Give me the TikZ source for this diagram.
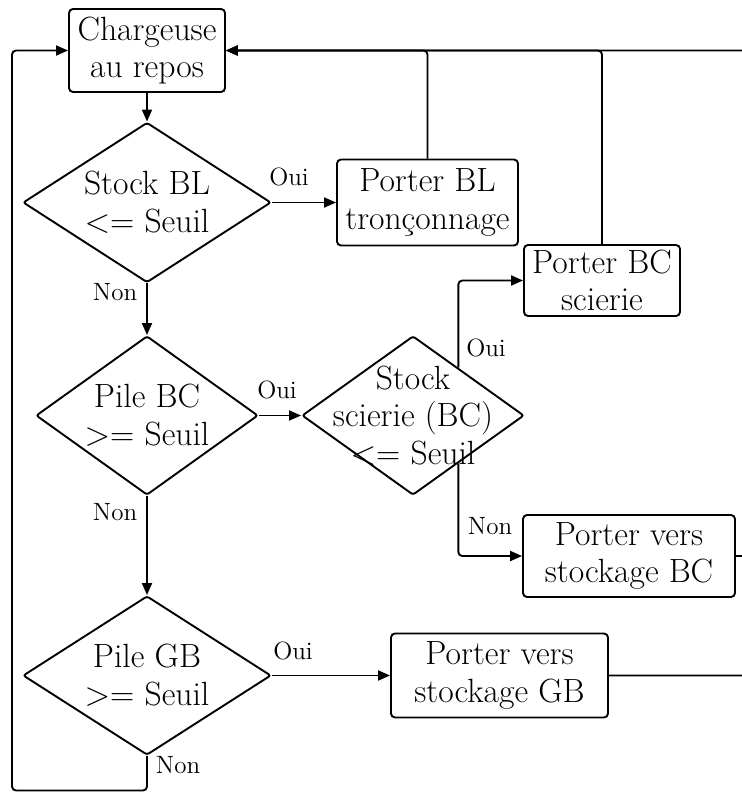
\documentclass[tikz,border=0pt]{standalone}
\usetikzlibrary{shapes.geometric,arrows.meta,calc}
\begin{document}
\begin{tikzpicture}[x=0.5pt,y=-0.5pt,
  line width=0.95pt,
  every node/.style={font=\fontsize{16.8}{18.8}\selectfont},
  stepbox/.style={draw, rounded corners=2pt, align=center, inner sep=0pt},
  test/.style={draw, diamond, inner sep=0pt, rounded corners=1.2pt},
  tag/.style={font=\fontsize{12.5}{14}\selectfont, inner sep=0pt},
  flow/.style={-{Triangle[length=6pt,width=5pt]}, rounded corners=2pt},
]
\useasboundingbox (0,0) rectangle (742,792);
\clip (0,0) rectangle (742,792);

% boxes and tests
\node[stepbox, minimum width=78pt, minimum height=41.5pt] (A) at (147,50.5) {Chargeuse\\au repos};
\node[test, minimum width=124pt, minimum height=80pt,
      label={[align=center]center:Stock BL\\<= Seuil}] (sbl) at (147,202.5) {};
\node[stepbox, minimum width=90.5pt, minimum height=43pt] (pbl) at (427.5,202.5) {Porter BL\\tronçonnage};
\node[test, minimum width=111pt, minimum height=79.5pt,
      label={[align=center]center:Pile BC\\>= Seuil}] (pbc) at (147,415.5) {};
\node[test, minimum width=111pt, minimum height=79.5pt,
      label={[align=center]center:Stock\\scierie (BC)\\<= Seuil}] (ssc) at (413,415.5) {};
\node[stepbox, minimum width=78pt, minimum height=35.5pt] (bcs) at (602,280.5) {Porter BC\\scierie};
\node[stepbox, minimum width=106pt, minimum height=41pt] (sbc) at (629,556) {Porter vers\\stockage BC};
\node[test, minimum width=124pt, minimum height=79.5pt,
      label={[align=center]center:Pile GB\\>= Seuil}] (pgb) at (147,675.5) {};
\node[stepbox, minimum width=108.5pt, minimum height=42pt] (sgb) at (499.5,675.5) {Porter vers\\stockage GB};

% branch labels
\node[tag] (l1) at (289,177) {Oui};
\node[tag] (l2) at (115,292) {Non};
\node[tag] (l3) at (277,390) {Oui};
\node[tag] (l4) at (115,512) {Non};
\node[tag] (l5) at (486,348) {Oui};
\node[tag] (l6) at (490,526) {Non};
\node[tag] (l7) at (293,651) {Oui};
\node[tag] (l8) at (178,765) {Non};

% connectors
\draw[flow] (A.south) -- (sbl.north);
\draw[flow] (sbl.east) -- (pbl.west);
\draw[flow] (sbl.south) -- (pbc.north);
\draw[flow] (pbc.east) -- (ssc.west);
\draw[flow] (pbc.south) -- (pgb.north);
\draw[flow] (pgb.east) -- (sgb.west);
\draw[flow] ($(ssc.north)!0.405!(ssc.east)$) |- (bcs.west);
\draw[flow] ($(ssc.south)!0.405!(ssc.east)$) |- (sbc.west);

% returns to the idle state
\draw[flow] (pbl.north) |- (A.east);
\draw[flow] (bcs.north) |- (A.east);
\coordinate (ret) at (770,50.5);
\draw[flow] (sgb.east) -| (ret) -- (A.east);
\draw (sbc.east) -- (sbc.east -| ret);
\coordinate (loop) at (12,790.5);
\draw[flow] (pgb.south) |- (loop) |- (A.west);
\end{tikzpicture}
\end{document}
